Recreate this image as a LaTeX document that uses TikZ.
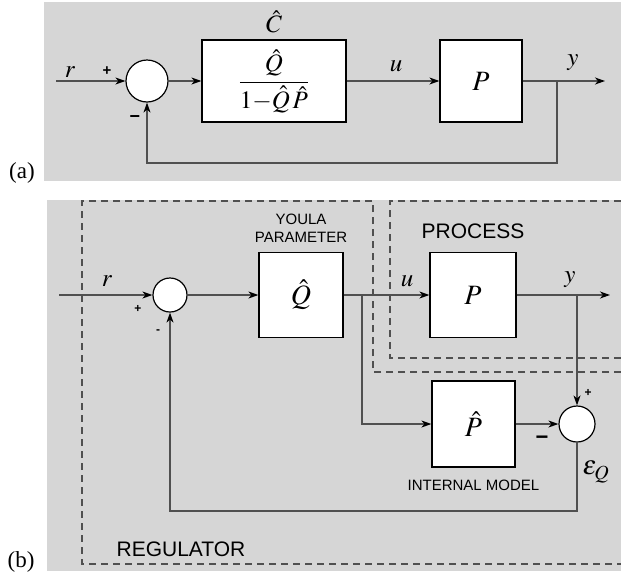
\documentclass[tikz,border=0pt]{standalone}
\usepackage{mathptmx}
\usepackage{fontspec}
\setmainfont{Liberation Serif}
\setsansfont{Liberation Sans}
\usepackage{tikz}
\usetikzlibrary{positioning, arrows.meta}
\definecolor{panelgray}{RGB}{214,214,214}
\definecolor{wiregray}{RGB}{80,80,80}

\begin{document}
\begin{tikzpicture}[x=1pt, y=-1pt,
    blk/.style={draw, fill=white, line width=1.2pt, inner sep=0pt, font=\fontsize{28}{30}\selectfont},
    sum/.style={circle, draw, fill=white, line width=1.2pt, inner sep=0pt},
    sig/.style={draw=wiregray, line width=1.3pt},
    tip/.style={-{Stealth[length=10pt, width=7pt, inset=3pt, color=black]}},
    bound/.style={draw=wiregray, line width=1.1pt, dash pattern=on 7pt off 5pt},
    mlbl/.style={inner sep=0pt, font=\fontsize{25}{27}\selectfont},
    caps/.style={inner sep=0pt, align=center, font=\sffamily\fontsize{15}{18}\selectfont},
    bigcaps/.style={inner sep=0pt, font=\sffamily\fontsize{21}{23}\selectfont},
    sgn/.style={inner sep=0pt, font=\sffamily\bfseries\fontsize{15}{15}\selectfont},
    tag/.style={inner sep=0pt, font=\fontsize{23}{25}\selectfont}]
  \useasboundingbox (0,0) rectangle (621,579);
  \fill[panelgray] (44,2) rectangle (621,181);
  \fill[panelgray] (47,200) rectangle (621,571);

  % (a)
  \coordinate (ra) at (56,81);
  \node[sum, minimum size=42pt] (sa) at (147,81) {};
  \node[blk, minimum width=144pt, minimum height=82pt, font=\fontsize{25}{27}\selectfont] (Ca) at (274,81)
    {$\displaystyle\frac{\hat{Q}}{1{-}\hat{Q}\,\hat{P}}$};
  \node[blk, minimum size=82pt] (Pa) at (481,81) {$P$};
  \coordinate (ya) at (557,81);
  \coordinate (oa) at (605,81);
  \coordinate (fa) at (557,163);
  \draw[sig, tip] (ra) -- (sa);
  \draw[sig, tip] (sa) -- (Ca);
  \draw[sig, tip] (Ca) -- (Pa);
  \draw[sig, tip] (Pa) -- (oa);
  \draw[sig, tip] (ya) -- (fa) -| (sa);
  \node[mlbl, above=6pt of Ca] {$\hat{C}$};
  \node[mlbl] at (70,72) {$r$};
  \node[mlbl] at (396,66) {$u$};
  \node[mlbl] at (573,63) {$y$};
  \node[sgn] at (107,71) {+};
  \node[sgn, font=\sffamily\bfseries\fontsize{18}{18}\selectfont] at (135,119) {−};
  \node[tag] at (22,173) {(a)};

  % (b)
  \draw[bound] (621,372) -- (373,372) -- (373,201) -- (82,201) -- (82,564) -- (621,564);
  \draw[bound] (621,201) -- (390,201) -- (390,358) -- (621,358);
  \coordinate (rb) at (59,295);
  \node[sum, minimum size=34pt] (sb) at (170,295) {};
  \node[blk, minimum width=84pt, minimum height=85pt] (Qb) at (301,295) {$\hat{Q}$};
  \node[blk, minimum width=86pt, minimum height=85pt] (Pb) at (473,295) {$P$};
  \node[blk, minimum width=83pt, minimum height=86pt] (Hb) at (473.5,424) {$\hat{P}$};
  \node[sum, minimum size=36pt] (eb) at (577,424) {};
  \coordinate (ub) at (362,295);
  \coordinate (yb) at (577,295);
  \coordinate (ob) at (610,295);
  \coordinate (fb) at (577,511);
  \draw[sig, tip] (rb) -- (sb);
  \draw[sig, tip] (sb) -- (Qb);
  \draw[sig, tip] (Qb) -- (Pb);
  \draw[sig, tip] (Pb) -- (ob);
  \draw[sig, tip] (ub) |- (Hb);
  \draw[sig, tip] (yb) -- (eb);
  \draw[sig, tip] (Hb) -- (eb);
  \draw[sig, tip] (eb) -- (fb) -| (sb);
  \node[caps, above=9pt of Qb] {YOULA\\PARAMETER};
  \node[bigcaps, above=13pt of Pb] {PROCESS};
  \node[caps, below=12pt of Hb] {INTERNAL MODEL};
  \node[bigcaps] at (181,549) {REGULATOR};
  \node[mlbl] at (107,281) {$r$};
  \node[mlbl] at (407,281) {$u$};
  \node[mlbl] at (570,280) {$y$};
  \node[mlbl, font=\fontsize{27}{29}\selectfont] at (596,472) {$\varepsilon_Q$};
  \node[sgn, font=\sffamily\bfseries\fontsize{12}{12}\selectfont] at (138,309) {+};
  \node[sgn, font=\sffamily\bfseries\fontsize{12}{12}\selectfont] at (158,332) {-};
  \node[sgn, font=\sffamily\bfseries\fontsize{12}{12}\selectfont] at (588,393) {+};
  \node[sgn, font=\sffamily\bfseries\fontsize{22}{22}\selectfont] at (542,440) {−};
  \node[tag] at (21,562) {(b)};
\end{tikzpicture}
\end{document}
